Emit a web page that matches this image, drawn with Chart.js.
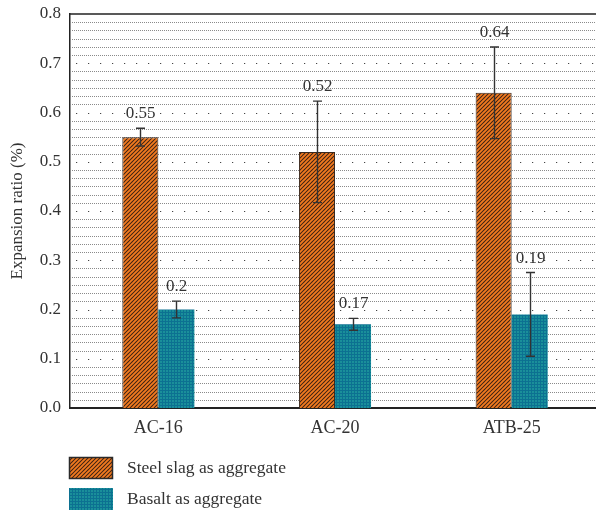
<!DOCTYPE html>
<html>
<head>
<meta charset="utf-8">
<script src="https://cdn.jsdelivr.net/npm/chart.js@4/dist/chart.umd.min.js"></script>
<style>
  html, body { margin: 0; padding: 0; background: #fff; overflow: hidden; }
  #wrap { width: 596px; height: 511px; overflow: hidden; }
  #box { width: 600px; height: 511px; }
</style>
</head>
<body>
<div id="wrap"><div id="box"><canvas id="c"></canvas></div></div>
<script>
// Mix types and measured expansion ratios (%)
const categories = ['AC-16', 'AC-20', 'ATB-25'];
const seriesNames = ['Steel slag as aggregate', 'Basalt as aggregate'];
const steelSlag = [0.55, 0.52, 0.64];
const basalt = [0.2, 0.17, 0.19];
// Standard deviation shown as error bars
const steelSlagErr = [0.018, 0.103, 0.093];
const basaltErr = [0.017, 0.012, 0.085];
const yTicks = [0, 0.1, 0.2, 0.3, 0.4, 0.5, 0.6, 0.7, 0.8];

const SERIF = '"Liberation Serif", "DejaVu Serif", serif';

function hatchPattern() {
  const s = 4;
  const cv = document.createElement('canvas');
  cv.width = s; cv.height = s;
  const g = cv.getContext('2d');
  g.fillStyle = '#3a2114';
  g.fillRect(0, 0, s, s);
  g.strokeStyle = '#f27a1f';
  g.lineWidth = 1.9;
  g.beginPath();
  for (let k = -1; k <= 1; k++) {
    g.moveTo(k * s - 1, s + 1);
    g.lineTo(k * s + s + 1, -1);
  }
  g.stroke();
  return g.createPattern(cv, 'repeat');
}

function gridPattern() {
  const s = 3;
  const cv = document.createElement('canvas');
  cv.width = s; cv.height = s;
  const g = cv.getContext('2d');
  g.fillStyle = '#1a8f9a';
  g.fillRect(0, 0, s, s);
  g.fillStyle = '#0c7191';
  g.fillRect(0, 0, s, 1);
  g.fillRect(0, 0, 1, s);
  return g.createPattern(cv, 'repeat');
}

const fills = [hatchPattern(), gridPattern()];
const errors = [steelSlagErr, basaltErr];

// Background grid: sparse dotted majors every 0.1, dense dotted minors between
const gridLines = {
  id: 'gridLines',
  beforeDatasetsDraw(chart) {
    const { ctx, chartArea: a, scales: { y } } = chart;
    ctx.save();
    for (let i = 0; i < 8; i++) {
      for (let j = 1; j < 6; j++) {
        const py = Math.round(y.getPixelForValue(i * 0.1 + j * 0.1 / 6)) + 0.5;
        ctx.strokeStyle = '#8a8a8a';
        ctx.lineWidth = 1;
        ctx.setLineDash([1, 1]);
        ctx.beginPath(); ctx.moveTo(a.left, py); ctx.lineTo(a.right, py); ctx.stroke();
      }
    }
    for (let i = 1; i < 8; i++) {
      const py = Math.round(y.getPixelForValue(yTicks[i])) + 0.5;
      ctx.strokeStyle = '#444';
      ctx.lineWidth = 1.2;
      ctx.setLineDash([1.2, 10.8]);
      ctx.lineDashOffset = -6;
      ctx.beginPath(); ctx.moveTo(a.left, py); ctx.lineTo(a.right, py); ctx.stroke();
    }
    ctx.setLineDash([]);
    // top frame line
    ctx.strokeStyle = '#222';
    ctx.lineWidth = 1.5;
    ctx.beginPath(); ctx.moveTo(a.left, a.top); ctx.lineTo(a.right, a.top); ctx.stroke();
    ctx.restore();
  }
};

// Error bars and value labels above them
const errorLabels = {
  id: 'errorLabels',
  afterDatasetsDraw(chart) {
    const { ctx, scales: { y } } = chart;
    ctx.save();
    chart.data.datasets.forEach((ds, di) => {
      const meta = chart.getDatasetMeta(di);
      meta.data.forEach((bar, i) => {
        const v = ds.data[i];
        const e = errors[di][i];
        const x = Math.round(bar.x) + 0.5;
        const yt = y.getPixelForValue(v + e);
        const yb = y.getPixelForValue(v - e);
        ctx.strokeStyle = '#333';
        ctx.lineWidth = 1.4;
        ctx.beginPath();
        ctx.moveTo(x, yt); ctx.lineTo(x, yb);
        ctx.moveTo(x - 4.5, yt); ctx.lineTo(x + 4.5, yt);
        ctx.moveTo(x - 4.5, yb); ctx.lineTo(x + 4.5, yb);
        ctx.stroke();
        ctx.fillStyle = '#333';
        ctx.font = '17px ' + SERIF;
        ctx.textAlign = 'center';
        ctx.textBaseline = 'alphabetic';
        ctx.fillText(String(v), x, yt - 10);
      });
    });
    ctx.restore();
  }
};

// Legend stacked under the x axis
const stackedLegend = {
  id: 'stackedLegend',
  afterDraw(chart) {
    const { ctx } = chart;
    ctx.save();
    chart.data.datasets.forEach((ds, di) => {
      const top = 457 + di * 31;
      ctx.fillStyle = ds.backgroundColor;
      ctx.fillRect(69, top, 44, 22);
      if (di === 0) {
        ctx.strokeStyle = '#2a2a2a';
        ctx.lineWidth = 1.5;
        ctx.strokeRect(69.5, top + 0.5, 43, 21);
      }
      ctx.fillStyle = '#333';
      ctx.font = '17.5px ' + SERIF;
      ctx.textAlign = 'left';
      ctx.textBaseline = 'middle';
      ctx.fillText(ds.label, 127, top + 11);
    });
    ctx.restore();
  }
};

new Chart(document.getElementById('c'), {
  type: 'bar',
  data: {
    labels: categories,
    datasets: [
      { label: seriesNames[0], data: steelSlag, backgroundColor: fills[0], borderColor: '#3a2a20', borderWidth: 1 },
      { label: seriesNames[1], data: basalt, backgroundColor: fills[1], borderWidth: 0 }
    ]
  },
  options: {
    responsive: true,
    maintainAspectRatio: false,
    animation: false,
    layout: { padding: { top: 14, right: 0, bottom: 0, left: 0 } },
    plugins: { legend: { display: false }, tooltip: { enabled: false } },
    datasets: { bar: { categoryPercentage: 0.408, barPercentage: 1 } },
    scales: {
      x: {
        grid: { display: false },
        border: { display: true, color: '#222', width: 2 },
        ticks: { color: '#333', font: { family: SERIF, size: 18 }, padding: 1 },
        afterFit(s) { s.height = 103; }
      },
      y: {
        min: 0, max: 0.8,
        afterBuildTicks(s) { s.ticks = yTicks.map(v => ({ value: v })); },
        grid: { display: false },
        border: { display: true, color: '#222', width: 1.5 },
        ticks: { color: '#333', font: { family: SERIF, size: 17 }, padding: 1,
                 callback: v => v.toFixed(1) },
        title: { display: true, text: 'Expansion ratio (%)', color: '#333',
                 font: { family: SERIF, size: 17 }, padding: { top: 7, bottom: 4 } },
        afterFit(s) { s.width = 70; }
      }
    }
  },
  plugins: [gridLines, errorLabels, stackedLegend]
});
</script>
</body>
</html>
